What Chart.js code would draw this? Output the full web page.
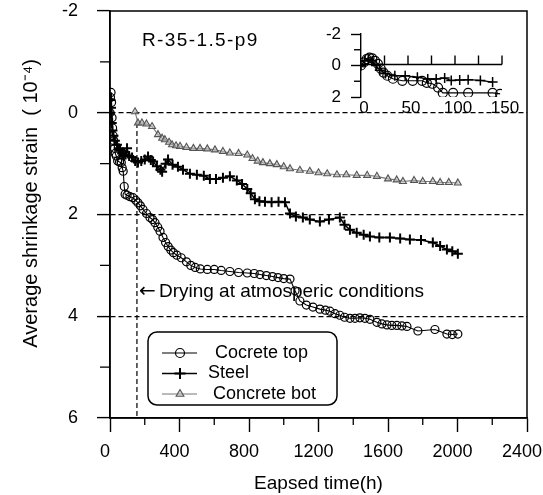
<!DOCTYPE html>
<html>
<head>
<meta charset="utf-8">
<title>R-35-1.5-p9 shrinkage</title>
<script src="https://cdn.jsdelivr.net/npm/chart.js@4.4.1/dist/chart.umd.min.js"></script>
<style>
  html, body { margin: 0; padding: 0; background: #fff; }
  #wrap { position: relative; width: 543px; height: 495px; }
  #main { position: absolute; left: 0; top: 0; }
  #inset { position: absolute; left: 300px; top: 20px; }
</style>
</head>
<body>
<div id="wrap">
  <canvas id="main" width="543" height="495" style="width:543px;height:495px"></canvas>
  <canvas id="inset" width="230" height="100" style="width:230px;height:100px"></canvas>
</div>
<script>
// main chart data (hours, strain in 1e-4; positive = shrinkage, plotted downward)
const topHours = [0, 3, 6, 9, 12, 15, 18, 22, 26, 30, 36, 44, 55, 65, 70, 76, 82, 87, 98, 115, 132, 148, 161, 175, 190, 210, 230, 245, 259, 275, 288, 305, 320, 335, 350, 365, 385, 410, 440, 465, 490, 520, 560, 600, 640, 690, 740, 790, 830, 863, 900, 935, 967, 1000, 1036, 1065, 1093, 1130, 1168, 1208, 1240, 1266, 1295, 1323, 1350, 1381, 1410, 1438, 1467, 1496, 1536, 1565, 1594, 1622, 1651, 1680, 1709, 1772, 1870, 1939, 1970, 2002];
const topStrain = [0, -0.3, -0.4, -0.2, 0.1, 0.3, 0.45, 0.55, 0.7, 0.8, 0.85, 0.95, 0.97, 0.98, 1.08, 1.15, 1.45, 1.6, 1.62, 1.65, 1.67, 1.72, 1.77, 1.83, 1.9, 1.98, 2.06, 2.1, 2.16, 2.25, 2.33, 2.45, 2.55, 2.63, 2.7, 2.75, 2.8, 2.85, 2.93, 3.0, 3.04, 3.07, 3.08, 3.08, 3.1, 3.12, 3.14, 3.15, 3.16, 3.18, 3.2, 3.22, 3.24, 3.26, 3.27, 3.5, 3.7, 3.78, 3.82, 3.86, 3.88, 3.9, 3.95, 3.98, 4.02, 4.04, 4.04, 4.03, 4.04, 4.06, 4.12, 4.15, 4.17, 4.18, 4.18, 4.19, 4.2, 4.29, 4.26, 4.35, 4.36, 4.35];

const steelHours = [0, 3, 6, 10, 14, 20, 28, 40, 50, 58, 70, 80, 90, 98, 110, 127, 145, 161, 180, 200, 219, 235, 248, 270, 290, 300, 320, 334, 360, 391, 420, 460, 500, 540, 575, 610, 650, 690, 730, 760, 790, 810, 834, 860, 892, 930, 970, 1007, 1036, 1070, 1110, 1150, 1208, 1260, 1323, 1350, 1381, 1420, 1460, 1496, 1550, 1611, 1670, 1726, 1790, 1858, 1900, 1939, 1970, 2002];
const steelStrain = [0, -0.25, -0.1, 0.2, 0.35, 0.45, 0.55, 0.63, 0.7, 0.73, 0.8, 0.85, 0.82, 0.7, 0.85, 0.88, 0.95, 0.98, 0.95, 0.92, 0.86, 0.93, 0.96, 1.05, 1.12, 1.16, 1.0, 0.92, 1.02, 1.06, 1.12, 1.2, 1.22, 1.24, 1.3, 1.3, 1.28, 1.25, 1.33, 1.4, 1.5, 1.58, 1.7, 1.74, 1.75, 1.76, 1.75, 1.76, 1.98, 2.04, 2.06, 2.1, 2.14, 2.1, 2.06, 2.2, 2.3, 2.36, 2.4, 2.43, 2.45, 2.45, 2.47, 2.49, 2.5, 2.55, 2.62, 2.69, 2.72, 2.77];

const botHours = [144, 161, 184, 210, 242, 276, 300, 316, 340, 357, 380, 403, 440, 480, 518, 560, 604, 650, 690, 740, 790, 820, 850, 880, 920, 960, 1000, 1036, 1093, 1150, 1200, 1250, 1306, 1360, 1420, 1480, 1536, 1600, 1650, 1686, 1750, 1800, 1858, 1900, 1950, 2002];
const botStrain = [-0.02, 0.2, 0.2, 0.22, 0.27, 0.43, 0.5, 0.53, 0.58, 0.63, 0.65, 0.66, 0.68, 0.7, 0.7, 0.71, 0.73, 0.76, 0.79, 0.8, 0.83, 0.9, 0.95, 0.98, 1.0, 1.02, 1.06, 1.1, 1.13, 1.15, 1.18, 1.2, 1.22, 1.22, 1.23, 1.23, 1.25, 1.3, 1.32, 1.35, 1.33, 1.35, 1.35, 1.37, 1.37, 1.38];

// inset: first 150 h
const insetTopHours = [0, 3, 6, 9, 12, 15, 18, 21, 24, 28, 34, 44, 55, 65, 70, 76, 82, 87, 98, 114, 140, 148];
const insetTopStrain = [0, -0.2, -0.4, -0.5, -0.45, -0.3, -0.1, 0.2, 0.45, 0.65, 0.84, 0.97, 0.97, 0.97, 1.1, 1.16, 1.4, 1.74, 1.74, 1.74, 1.74, 1.8];
const insetSteelHours = [0, 4, 8, 12, 16, 20, 26, 36, 47, 60, 71, 80, 89, 96, 105, 114, 127, 140];
const insetSteelStrain = [0, -0.3, -0.4, -0.3, 0, 0.3, 0.5, 0.65, 0.65, 0.75, 0.85, 0.85, 0.8, 0.95, 0.92, 0.9, 0.95, 1.05];

const seriesNames = ['Cocrete top', 'Steel', 'Concrete bot'];
const xTicksMain = [0, 400, 800, 1200, 1600, 2000, 2400];
const xMinorMain = [200, 600, 1000, 1400, 1800, 2200];
const yMinorMain = [-1, 1, 3, 5];
const xTicksInset = [25, 50, 75, 100, 125, 150];
const yMinorInset = [-1, 1];

const dryingHours = 155;   // start of drying
const dryingFrom = 0.2;
const noteLevel = 3.52;
const noteText = 'Drying at atmosperic conditions';
const specimenLabel = 'R-35-1.5-p9';
const labelPos = [184, -1.42];

const FONT = '"Liberation Sans", Arial, Helvetica, sans-serif';
Chart.defaults.font.family = FONT;
Chart.defaults.color = '#000';

function toPoints(xs, ys) {
  return xs.map((x, i) => ({ x: x, y: ys[i] }));
}

function line(ctx, x1, y1, x2, y2) {
  ctx.beginPath();
  ctx.moveTo(x1, y1);
  ctx.lineTo(x2, y2);
  ctx.stroke();
}

// pin the plot area: chart.js would otherwise reserve room for tick padding
function fixSize(prop, size) {
  return s => {
    s[prop] = size;
    s.paddingTop = 0;
    s.paddingBottom = 0;
    s.paddingLeft = 0;
    s.paddingRight = 0;
  };
}

const mainDecor = {
  id: 'mainDecor',
  afterDraw(chart) {
    const ctx = chart.ctx;
    const a = chart.chartArea;
    const xs = chart.scales.x;
    const ys = chart.scales.y;
    ctx.save();
    ctx.strokeStyle = '#000';
    ctx.lineWidth = 1.5;
    ctx.strokeRect(a.left, a.top, a.right - a.left, a.bottom - a.top);

    // minor ticks
    ctx.lineWidth = 1.3;
    xMinorMain.forEach(v => {
      const px = xs.getPixelForValue(v);
      line(ctx, px, a.bottom, px, a.bottom + 7);
    });
    yMinorMain.forEach(v => {
      const py = ys.getPixelForValue(v);
      line(ctx, a.left - 10, py, a.left, py);
    });

    ctx.fillStyle = '#000';
    ctx.textBaseline = 'middle';
    ctx.textAlign = 'left';
    ctx.font = '19px ' + FONT;
    ctx.letterSpacing = '1.4px';
    ctx.fillText(specimenLabel, xs.getPixelForValue(labelPos[0]), ys.getPixelForValue(labelPos[1]));
    ctx.letterSpacing = '0px';

    // arrow + note
    const nx = xs.getPixelForValue(dryingHours) + 2;
    const ny = ys.getPixelForValue(noteLevel);
    ctx.font = '20px "DejaVu Sans", sans-serif';
    ctx.fillText('\u2190', nx, ny);
    ctx.font = '19px ' + FONT;
    ctx.fillText(noteText, nx + 20, ny);

    // legend box in lower left
    const bx = a.left + 38, by = a.top + 321, bw = 189, bh = 73, r = 9;
    ctx.lineWidth = 1.5;
    ctx.beginPath();
    ctx.moveTo(bx + r, by);
    ctx.arcTo(bx + bw, by, bx + bw, by + bh, r);
    ctx.arcTo(bx + bw, by + bh, bx, by + bh, r);
    ctx.arcTo(bx, by + bh, bx, by, r);
    ctx.arcTo(bx, by, bx + bw, by, r);
    ctx.closePath();
    ctx.fillStyle = '#fff';
    ctx.fill();
    ctx.stroke();

    const textX = [215, 208, 213];
    ctx.font = '18px ' + FONT;
    for (let i = 0; i < 3; i++) {
      const ds = chart.data.datasets[i];
      const y = by + 21 + i * 20.5;
      ctx.strokeStyle = ds.borderColor;
      ctx.lineWidth = ds.borderWidth;
      line(ctx, bx + 14, y, bx + 49, y);
      ctx.strokeStyle = ds.pointBorderColor;
      ctx.fillStyle = ds.pointBackgroundColor;
      ctx.lineWidth = ds.pointBorderWidth;
      Chart.helpers.drawPoint(ctx, { pointStyle: ds.pointStyle, radius: ds.pointRadius + 0.5, borderWidth: ds.pointBorderWidth, rotation: 0 }, bx + 32, y);
      ctx.fillStyle = '#000';
      ctx.fillText(seriesNames[i], textX[i], y);
    }
    ctx.restore();
  }
};

new Chart(document.getElementById('main'), {
  type: 'scatter',
  data: {
    datasets: [
      {
        label: seriesNames[0],
        data: toPoints(topHours, topStrain),
        showLine: true,
        borderColor: '#000',
        borderWidth: 1.1,
        pointStyle: 'circle',
        pointRadius: 4,
        pointBorderWidth: 1.2,
        pointBorderColor: '#000',
        pointBackgroundColor: 'rgba(255,255,255,0)'
      },
      {
        label: seriesNames[1],
        data: toPoints(steelHours, steelStrain),
        showLine: true,
        borderColor: '#000',
        borderWidth: 1.5,
        pointStyle: 'cross',
        pointRadius: 5,
        pointBorderWidth: 2,
        pointBorderColor: '#000',
        pointBackgroundColor: '#000'
      },
      {
        label: seriesNames[2],
        data: toPoints(botHours, botStrain),
        showLine: true,
        borderColor: '#777',
        borderWidth: 1.1,
        pointStyle: 'triangle',
        pointRadius: 4,
        pointBorderWidth: 1.1,
        pointBorderColor: '#555',
        pointBackgroundColor: 'rgba(190,190,190,0.6)'
      },
      {
        label: 'drying',
        data: [{ x: dryingHours, y: dryingFrom }, { x: dryingHours, y: 6 }],
        showLine: true,
        borderColor: '#000',
        borderWidth: 1.2,
        borderDash: [5, 3],
        pointRadius: 0
      }
    ]
  },
  options: {
    responsive: false,
    animation: false,
    devicePixelRatio: 1,
    layout: { padding: { left: 0, right: 16, top: 11, bottom: 0 } },
    plugins: { legend: { display: false }, tooltip: { enabled: false } },
    scales: {
      x: {
        type: 'linear',
        min: 0,
        max: 2400,
        afterBuildTicks: s => { s.ticks = xTicksMain.map(v => ({ value: v })); },
        afterFit: fixSize('height', 77),
        ticks: { font: { size: 18 }, padding: 9, maxRotation: 0, labelOffset: -5, callback: v => String(v) },
        grid: { drawOnChartArea: false, tickLength: 14, tickColor: '#000', tickWidth: 1.4 },
        border: { display: true, color: '#000', width: 1.5 },
        title: { display: true, text: 'Eapsed time(h)', font: { size: 19 }, padding: { top: 0, bottom: 0 } }
      },
      y: {
        type: 'linear',
        reverse: true,
        min: -2,
        max: 6,
        ticks: { stepSize: 2, font: { size: 18 }, padding: 19 },
        afterFit: fixSize('width', 110),
        grid: {
          drawOnChartArea: true,
          tickLength: 13,
          tickColor: '#000',
          tickWidth: 1.4,
          lineWidth: 1.2,
          color: c => (c.tick && c.tick.value > -2 && c.tick.value < 6) ? '#000' : 'rgba(0,0,0,0)'
        },
        border: { display: true, color: '#000', width: 1.5, dash: [5, 3] },
        // leading spaces nudge the rotated title upward like the original
        title: { display: true, text: '    Average shrinkage strain  ( 10\u207B\u2074)', font: { size: 20 }, padding: { top: 19, bottom: 0 } }
      }
    }
  },
  plugins: [mainDecor]
});

const insetDecor = {
  id: 'insetDecor',
  afterDraw(chart) {
    const ctx = chart.ctx;
    const a = chart.chartArea;
    const xs = chart.scales.x;
    const ys = chart.scales.y;
    ctx.save();
    ctx.strokeStyle = '#000';
    ctx.lineWidth = 1.4;
    // axis line along zero with ticks pointing up
    const y0 = ys.getPixelForValue(0) - 1;
    line(ctx, a.left, y0, xs.getPixelForValue(150), y0);
    xTicksInset.forEach(v => {
      const px = xs.getPixelForValue(v);
      line(ctx, px, y0, px, y0 - 9);
    });
    yMinorInset.forEach(v => {
      const py = ys.getPixelForValue(v);
      line(ctx, a.left - 7, py, a.left, py);
    });
    ctx.restore();
  }
};

new Chart(document.getElementById('inset'), {
  type: 'scatter',
  data: {
    datasets: [
      {
        data: toPoints(insetTopHours, insetTopStrain),
        showLine: true,
        borderColor: '#000',
        borderWidth: 1.1,
        pointStyle: 'circle',
        pointRadius: 4.5,
        pointBorderWidth: 1.2,
        pointBorderColor: '#000',
        pointBackgroundColor: 'rgba(255,255,255,0)'
      },
      {
        data: toPoints(insetSteelHours, insetSteelStrain),
        showLine: true,
        borderColor: '#000',
        borderWidth: 1.2,
        pointStyle: 'cross',
        pointRadius: 5,
        pointBorderWidth: 1.5,
        pointBorderColor: '#000'
      }
    ]
  },
  options: {
    responsive: false,
    animation: false,
    devicePixelRatio: 1,
    layout: { padding: { left: 0, right: 28, top: 14, bottom: 0 } },
    plugins: { legend: { display: false }, tooltip: { enabled: false } },
    scales: {
      x: {
        type: 'linear',
        min: 0,
        max: 150,
        ticks: { stepSize: 50, font: { size: 17 }, padding: 1, maxRotation: 0, labelOffset: 3 },
        afterFit: fixSize('height', 23),
        grid: { display: false, drawTicks: false },
        border: { display: false }
      },
      y: {
        type: 'linear',
        reverse: true,
        min: -2,
        max: 2,
        ticks: { stepSize: 2, font: { size: 17 }, padding: 10 },
        afterFit: fixSize('width', 61),
        grid: { drawOnChartArea: false, tickLength: 10, tickColor: '#000', tickWidth: 1.4 },
        border: { display: true, color: '#000', width: 1.4 }
      }
    }
  },
  plugins: [insetDecor]
});
</script>
</body>
</html>
